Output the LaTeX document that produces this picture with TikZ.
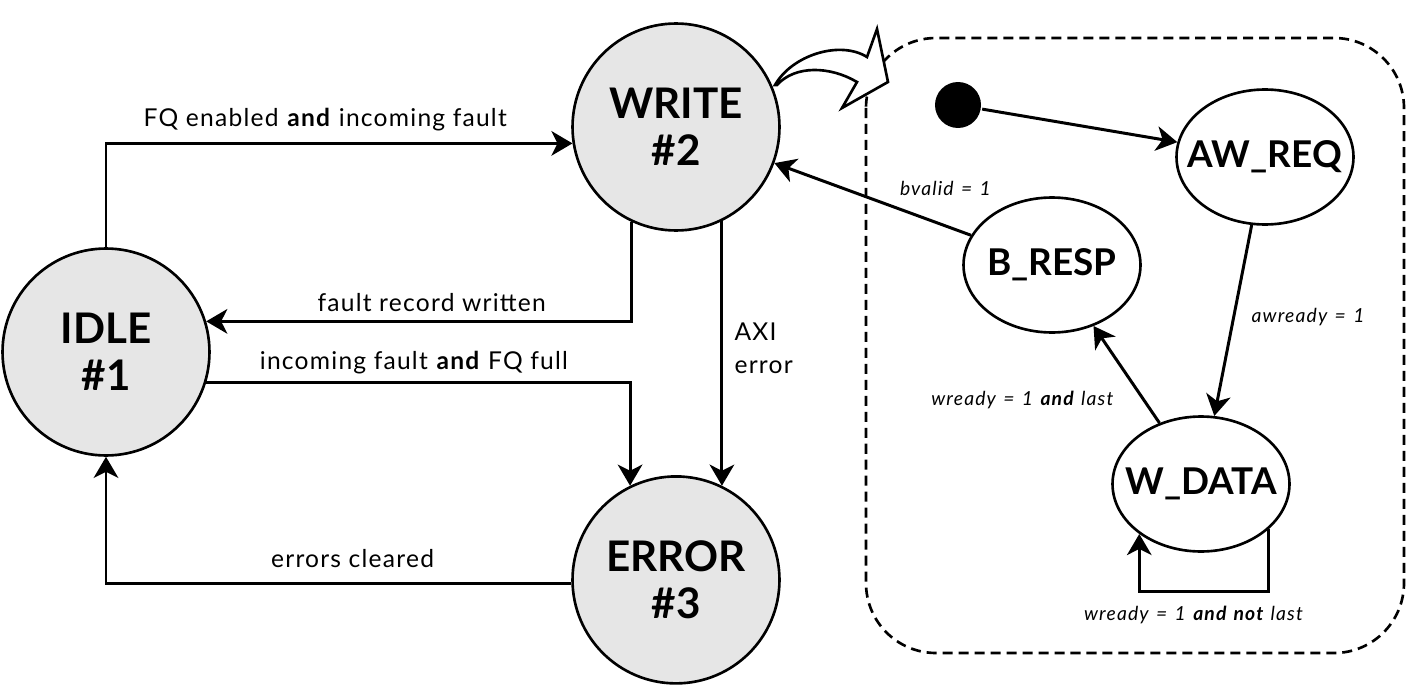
\documentclass[tikz,border=0pt]{standalone}
\usepackage{fontspec}
\setmainfont{Lato}
\newfontfamily\lblfont{Lato}[LetterSpace=5]
\newfontfamily\condfont{Lato}[LetterSpace=6, WordSpace=1.3]
\usetikzlibrary{arrows.meta,shapes.geometric,positioning}
\definecolor{stategray}{HTML}{E6E6E6}

\begin{document}
\begin{tikzpicture}[x=0.02cm, y=-0.02cm, node distance={90.6mm}, line width=1.7pt,
    main/.style = {draw, circle, line width=1.5pt, fill=stategray, minimum size=4.14cm, inner sep=0pt, align=center, font=\fontsize{24}{27}\selectfont\bfseries},
    sub/.style = {draw, ellipse, line width=1.5pt, minimum width=3.54cm, minimum height=2.7cm, inner xsep=-12pt, inner ysep=0pt, font=\fontsize{21}{24}\selectfont\bfseries},
    dot/.style = {circle, fill=black, minimum size=0.92cm, inner sep=0pt},
    lbl/.style = {font=\lblfont\fontsize{14}{18.7}\selectfont},
    cond/.style = {font=\condfont\fontsize{11}{13}\selectfont\itshape},
    >={Stealth[length=12pt, width=14pt, inset=3.5pt]}]
    \useasboundingbox (0,0) rectangle (1407,693);
    % outer machine
    \node[main] (1) at (106,352) {IDLE\\\#1};
    \node[main] (2) at (676,127) {WRITE\\\#2};
    \node[main] (3) [below of=2] {ERROR\\\#3};
    % write sub-machine
    \draw[line width=1.5pt, dash pattern=on 5.7pt off 3.4pt, rounded corners=1.4cm] (866,38) rectangle (1404,653);
    \draw[line width=1.5pt, fill=white] (775,85) .. controls (792,55) and (840,40) .. (867,57) -- (877,29) -- (888,82) -- (842,108) -- (857,82) .. controls (830,66) and (795,65) .. (777,85) -- cycle;
    \node[dot] (4) at (958,105) {};
    \node[sub] (5) at (1265,157) {AW\_REQ};
    \node[sub] (6) at (1201,484) {W\_DATA};
    \node[sub] (7) at (1052,265) {B\_RESP};
    \draw[->] (1.north) |- node[lbl, pos=0.735, above=3pt] {FQ enabled \textbf{and} incoming fault} (2.189);
    \draw[->] (2.245) |- node[lbl, pos=0.735, above=1.5pt] {fault record written} (1.17);
    \draw[->] (1.-17) -| node[lbl, pos=0.245, above=0.5pt] {incoming fault \textbf{and} FQ full} (3.116);
    \draw[->] (2.-64) -- node[lbl, pos=0.48, right=3pt, align=left] {AXI\\error} (3.64);
    \draw[->] (3.182) -| node[lbl, pos=0.235, above=5pt] {errors cleared} (1.south);
    \draw[->] (4) -- (5);
    \draw[->] (5) -- node[cond, pos=0.48, right=6pt] {awready = 1} (6);
    \draw[->] (6) -- node[cond, pos=0.24, left=13pt] {wready = 1 \textbf{and} last} (7);
    \draw[->] (7) -- node[cond, pos=0.13, above=13pt] {bvalid = 1} (2);
    \draw[->] (6.-34) -- ++(0,62) -| node[cond, pos=0.29, below=4pt] {wready = 1 \textbf{and not} last} (6.-141);
\end{tikzpicture}
\end{document}
